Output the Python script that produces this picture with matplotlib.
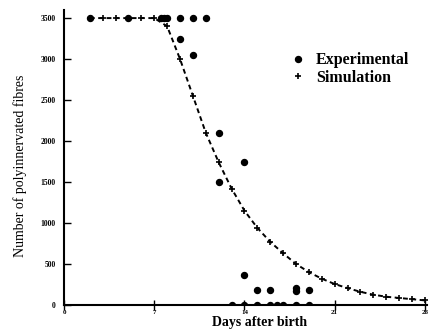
import matplotlib
matplotlib.use('Agg')
import matplotlib.pyplot as plt
from matplotlib.lines import Line2D


# experimental counts (filled circles)
exp_days = [2, 5, 7.5, 7.75, 8, 9, 10, 11,
            9, 10, 12, 12, 14, 14,
            15, 16, 18, 18, 19,
            13, 14, 15, 16, 16.5, 17, 18, 19]
exp_fibres = [3500, 3500, 3500, 3500, 3500, 3500, 3500, 3500,
              3250, 3050, 2100, 1500, 1750, 370,
              180, 180, 210, 165, 180,
              0, 0, 0, 0, 0, 0, 0, 0]

# simulation (dashed line with crosses)
sim_days = [2, 3, 4, 5, 6, 7, 8, 9, 10, 11, 12, 13, 14, 15,
            16, 17, 18, 19, 20, 21, 22, 23, 24, 25, 26, 27, 28]
sim_fibres = [3500, 3500, 3500, 3500, 3500, 3500, 3400, 3000, 2550, 2100,
              1740, 1420, 1150, 940, 770, 630, 500, 400, 320, 255,
              205, 160, 125, 100, 85, 70, 55]

x_ticks = [0, 7, 14, 21, 28]
y_ticks = [0, 500, 1000, 1500, 2000, 2500, 3000, 3500]

plt.rcParams['font.family'] = ['Liberation Serif', 'DejaVu Serif']

fig = plt.figure(figsize=(4.3, 3.3), dpi=100)
ax = fig.add_axes([0.149, 0.076, 0.845, 0.894])

ax.plot(sim_days, sim_fibres, color='black', linestyle=(0, (2.5, 1.8)),
        linewidth=1.4, marker='+', markersize=5, markeredgewidth=1.2)
ax.plot(exp_days, exp_fibres, linestyle='none', marker='o', color='black',
        markersize=4.3, clip_on=True)

ax.set_xlim(0, 28.2)
ax.set_ylim(0, 3600)
ax.set_xticks(x_ticks)
ax.set_yticks(y_ticks)
ax.tick_params(axis='x', direction='inout', length=7, width=1, pad=0,
               labelsize=5)
ax.tick_params(axis='y', direction='in', length=5, width=1, pad=6,
               labelsize=5.5)
for lab in ax.get_xticklabels() + ax.get_yticklabels():
    lab.set_fontweight('bold')

for side in ['top', 'right']:
    ax.spines[side].set_visible(False)
for side in ['left', 'bottom']:
    ax.spines[side].set_linewidth(1.5)

ax.set_ylabel('Number of polyinnervated fibres', fontsize=10)
ax.yaxis.set_label_coords(-0.102, 0.47)
ax.set_xlabel('Days after birth', fontsize=10, fontweight='bold')
ax.xaxis.set_label_coords(0.537, -0.037)

handles = [Line2D([], [], linestyle='none', marker='o', color='black',
                  markersize=4.3),
           Line2D([], [], linestyle='none', marker='+', color='black',
                  markersize=5, markeredgewidth=1.2)]
ax.legend(handles, ['Experimental', 'Simulation'], loc='upper left',
          bbox_to_anchor=(0.583, 0.905), frameon=False, handlelength=1.0,
          handletextpad=0.6, labelspacing=0.1,
          prop={'weight': 'bold', 'size': 11.5})

fig.savefig('out.png', dpi=100)
